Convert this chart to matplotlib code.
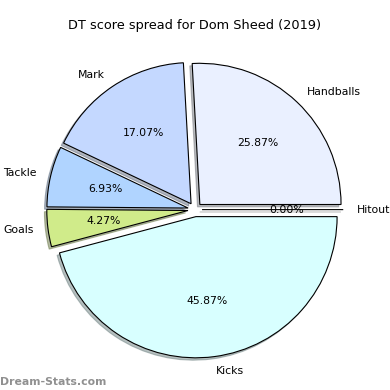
import matplotlib
matplotlib.use("Agg")
import matplotlib.pyplot as plt

labels = ['Handballs', 'Mark', 'Tackle', 'Goals', 'Kicks', 'Hitout']
values = [97, 64, 26, 16, 172, 0]
colors = ['#eaf0ff', '#c4d8ff', '#b0d4ff', '#d0eb8a', '#d8ffff', '#ffffff']
explode = [0.05] * len(values)

fig = plt.figure(figsize=(3.9, 3.9), dpi=100)
ax = fig.add_axes([0.005, 0.01, 0.99, 0.905])
ax.pie(values, labels=labels, colors=colors, explode=explode, autopct='%1.2f%%',
       startangle=0, shadow={'ox': -0.012, 'oy': -0.012, 'shade': 0.5},
       wedgeprops={'edgecolor': 'black', 'linewidth': 0.8},
       textprops={'fontsize': 7.8})
ax.set_aspect('equal')
fig.suptitle('DT score spread for Dom Sheed (2019)', fontsize=9.3, y=0.95)
fig.text(0.0, 0.012, 'Dream-Stats.com', fontsize=7.8, color='#909090', fontweight='bold')

fig.savefig('out.png', dpi=100)
